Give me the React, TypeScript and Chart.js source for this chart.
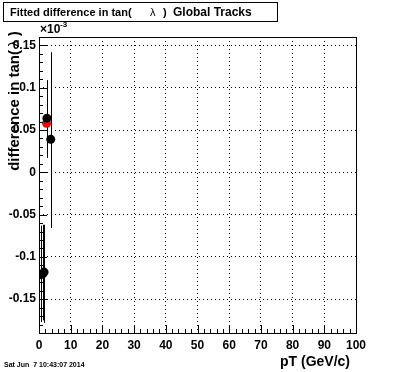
import React, { useEffect, useRef } from "react";
import { Chart, registerables } from "chart.js";
Chart.register(...registerables);

const blackX = [0.6, 1.2, 1.6, 2.5, 3.7];
const blackY = [-0.121, -0.12, -0.118, 0.064, 0.039];
const blackErrLow = [0.056, 0.055, 0.06, 0.047, 0.105];
const blackErrHigh = [0.058, 0.058, 0.056, 0.045, 0.103];
const redX = [2.4];
const redY = [0.058];
const yTickValues = [-0.15, -0.1, -0.05, 0, 0.05, 0.1, 0.15];
const xTickValues = [0, 10, 20, 30, 40, 50, 60, 70, 80, 90, 100];
const titleParts = ["Fitted difference in tan(", "\u03bb", ")", "Global Tracks"];
const xAxisTitle = "pT (GeV/c)";
const yAxisTitle = "difference in tan(";
const dateText = "Sat Jun  7 10:43:07 2014";

const FONT = "'Liberation Sans', Arial, Helvetica, sans-serif";

export default function App() {
  const ref = useRef<HTMLCanvasElement | null>(null);
  useEffect(() => {
    document.body.style.margin = "0";
    const canvas = ref.current!;
    const errorBars = {
      id: "errorBars",
      beforeDatasetsDraw(chart: any) {
        const ctx = chart.ctx;
        const ys = chart.scales.y;
        const meta = chart.getDatasetMeta(0);
        ctx.save();
        ctx.strokeStyle = "#000";
        ctx.lineWidth = 1;
        meta.data.forEach((pt: any, i: number) => {
          const x = Math.round(pt.x) + 0.5;
          const y1 = ys.getPixelForValue(blackY[i] + blackErrHigh[i]);
          const y2 = ys.getPixelForValue(blackY[i] - blackErrLow[i]);
          ctx.beginPath();
          ctx.moveTo(x, y1);
          ctx.lineTo(x, y2);
          ctx.stroke();
        });
        ctx.restore();
      },
    };
    const decorations = {
      id: "decorations",
      afterDraw(chart: any) {
        const ctx = chart.ctx;
        const a = chart.chartArea;
        const xs = chart.scales.x;
        const ys = chart.scales.y;
        ctx.save();
        ctx.strokeStyle = "#000";
        ctx.lineWidth = 1;
        ctx.setLineDash([]);
        ctx.strokeRect(Math.round(a.left) + 0.5, Math.round(a.top) + 0.5, Math.round(a.right - a.left), Math.round(a.bottom - a.top));
        ctx.beginPath();
        for (let k = -19; k <= 16; k++) {
          const v = k / 100;
          const py = Math.round(ys.getPixelForValue(v)) + 0.5;
          const len = k % 5 === 0 ? 8 : 4;
          ctx.moveTo(a.left, py);
          ctx.lineTo(a.left + len, py);
        }
        for (let k = 0; k <= 100; k += 2) {
          const px = Math.round(xs.getPixelForValue(k)) + 0.5;
          const len = k % 10 === 0 ? 8 : 4;
          ctx.moveTo(px, a.bottom);
          ctx.lineTo(px, a.bottom - len);
        }
        ctx.stroke();
        // title box
        ctx.fillStyle = "#fff";
        ctx.fillRect(3, 2, 275, 20);
        ctx.strokeRect(3.5, 2.5, 274, 19);
        ctx.fillStyle = "#000";
        ctx.font = `bold 11px ${FONT}`;
        ctx.textBaseline = "middle";
        ctx.textAlign = "left";
        ctx.fillText(titleParts[0], 10, 12.5);
        ctx.font = `11px ${FONT}`;
        ctx.fillText(titleParts[1], 150, 12.5);
        ctx.font = `bold 11px ${FONT}`;
        ctx.fillText(titleParts[2], 163, 12.5);
        ctx.font = `bold 12px ${FONT}`;
        ctx.fillText(titleParts[3], 173, 12.5);
        // x10^-3
        ctx.font = `bold 12px ${FONT}`;
        ctx.fillText("\u00d710", 40, 30);
        ctx.font = `bold 8px ${FONT}`;
        ctx.fillText("-3", 60, 25);
        // x axis title
        ctx.font = `bold 14px ${FONT}`;
        ctx.textAlign = "right";
        ctx.fillText(xAxisTitle, 350, 362);
        // date
        ctx.font = `bold 7px ${FONT}`;
        ctx.textAlign = "left";
        ctx.fillText(dateText, 4, 365);
        // y axis title
        ctx.save();
        ctx.translate(15, 0);
        ctx.rotate(-Math.PI / 2);
        ctx.font = `bold 15px ${FONT}`;
        ctx.textAlign = "right";
        ctx.fillText(yAxisTitle, -50, 0);
        ctx.textAlign = "left";
        ctx.font = `14px ${FONT}`;
        ctx.fillText("\u03bb", -47, 0);
        ctx.font = `bold 14px ${FONT}`;
        ctx.fillText(")", -36, 0);
        ctx.restore();
        ctx.restore();
      },
    };
    const chart = new Chart(canvas, {
      type: "scatter",
      data: {
        datasets: [
          {
            data: blackX.map((x, i) => ({ x, y: blackY[i] })),
            backgroundColor: "#000",
            borderColor: "#000",
            pointRadius: 4.5,
            pointBorderWidth: 0,
          },
          {
            data: redX.map((x, i) => ({ x, y: redY[i] })),
            backgroundColor: "#ff0000",
            borderColor: "#ff0000",
            pointRadius: 4.5,
            pointBorderWidth: 0,
          },
        ],
      },
      options: {
        responsive: false,
        animation: false,
        devicePixelRatio: 1,
        layout: { padding: { left: 0, top: 37, right: 40, bottom: 0 } },
        plugins: { legend: { display: false }, tooltip: { enabled: false }, title: { display: false } },
        scales: {
          x: {
            type: "linear",
            min: 0,
            max: 100,
            afterFit: (s: any) => { s.height = 39; },
            afterBuildTicks: (s: any) => { s.ticks = xTickValues.map((v) => ({ value: v })); },
            grid: { color: "#000", lineWidth: 1, drawTicks: false },
            border: { display: false, dash: [1, 3] },
            ticks: {
              padding: 5,
              color: "#000",
              font: { family: FONT, size: 12, weight: "bold" },
              maxRotation: 0,
              autoSkip: false,
            },
          },
          y: {
            type: "linear",
            min: -0.19,
            max: 0.16,
            afterFit: (s: any) => { s.width = 39; },
            afterBuildTicks: (s: any) => { s.ticks = yTickValues.map((v) => ({ value: v })); },
            grid: { color: "#000", lineWidth: 1, drawTicks: false },
            border: { display: false, dash: [1, 3] },
            ticks: {
              padding: 3,
              color: "#000",
              font: { family: FONT, size: 12, weight: "bold" },
              autoSkip: false,
              callback: (v: any) => String(Number(Number(v).toFixed(2))),
            },
          },
        },
      },
      plugins: [errorBars, decorations],
    } as any);
    return () => chart.destroy();
  }, []);
  return <canvas ref={ref} width={396} height={372} style={{ display: "block" }} />;
}
